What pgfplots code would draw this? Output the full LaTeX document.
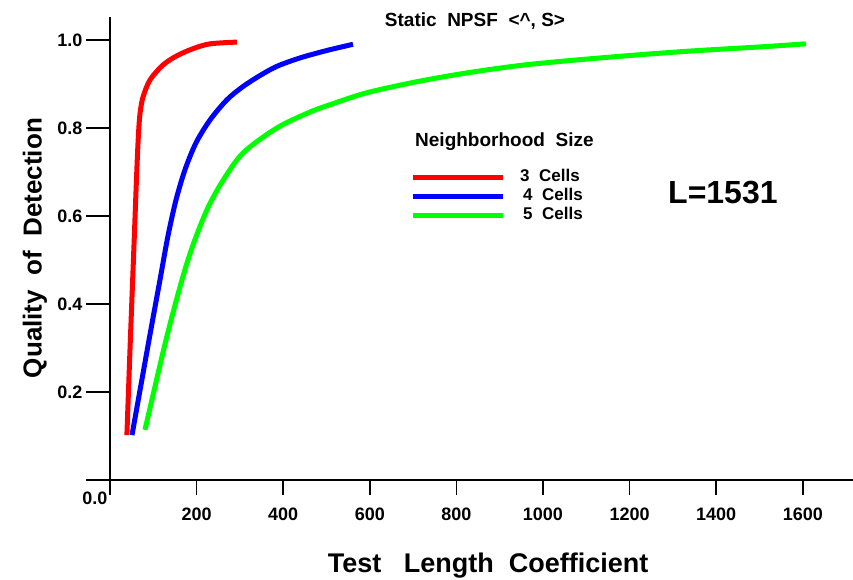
\documentclass[border=0pt]{standalone}
\usepackage{fontspec}
\setmainfont{Liberation Sans}
\usepackage{pgfplots}
\pgfplotsset{compat=1.18}
\newcommand\fs[1]{\fontsize{#1}{#1}\selectfont\bfseries}
\definecolor{cred}{RGB}{255,0,0}
\definecolor{cblue}{RGB}{0,0,255}
\definecolor{cgreen}{RGB}{0,255,0}
\begin{document}
\begin{tikzpicture}[x=1pt,y=1pt]
\useasboundingbox (-110,-100) rectangle (743,480);
\begin{axis}[
  at={(0,0)}, anchor=south west, scale only axis,
  width=743pt, height=463pt,
  xmin=0, xmax=1716, ymin=0, ymax=1.052,
  clip=false,
  axis x line=bottom, axis y line=left,
  axis line style={-, line width=1.8pt, black},
  tick align=outside, major tick length=24pt,
  tick style={line width=1.6pt, black},
  xtick={200,400,600,800,1000,1200,1400,1600},
  xticklabels={200,400,600,800,1000,1200,1400,1600},
  ytick={0.2,0.4,0.6,0.8,1.0},
  yticklabels={0.2,0.4,0.6,0.8,1.0},
  xtick style={/pgfplots/major tick length=15pt},
  extra x ticks={0}, extra x tick labels={},
  extra x tick style={/pgfplots/major tick length=15pt},
  extra y ticks={0}, extra y tick labels={0.0},
  extra y tick style={yticklabel style={xshift=25pt,yshift=-18pt}},
  tick label style={font=\fs{18}},
  xlabel={Test\ \ \ Length\ \ Coefficient},
  ylabel={Quality\ \ of\ \ Detection},
  xlabel style={font=\fs{27}, at={(axis description cs:0.509,-0.185)}, anchor=center},
  ylabel style={font=\fs{26}, at={(axis description cs:-0.101,0.501)}, anchor=center, rotate=0},
  legend style={at={(axis description cs:0.4038,0.672)}, anchor=north west,
    draw=none, fill=none, font=\fs{17}, row sep=5pt, column sep=15pt,
    inner sep=0pt, nodes={inner sep=0pt}},
  legend cell align=left,
  legend image code/.code={\draw[#1, line width=5pt] (0pt,-1.5pt) -- (90pt,-1.5pt);},
]
\addplot[cred, line width=5pt, smooth] coordinates {
(39,0.102)(47,0.318)(55,0.523)(62,0.705)(66,0.790)(69.5,0.834)(76.2,0.870)(92.4,0.909)(122.4,0.943)(154.7,0.964)(191.7,0.980)(231,0.991)(293,0.995)};
\addlegendentry{3\ \ Cells}
\addplot[cblue, line width=5pt, smooth] coordinates {
(50.8,0.102)(90.1,0.318)(115.5,0.455)(134,0.555)(152.4,0.636)(173.2,0.705)(198.6,0.766)(231,0.818)(270.2,0.864)(307.2,0.894)(346.4,0.919)(385.7,0.940)(438.8,0.959)(501.2,0.976)(561.2,0.990)};
\addlegendentry{\hspace{3pt}4\ \ Cells}
\addplot[cgreen, line width=5pt, smooth] coordinates {
(80.8,0.114)(129.3,0.318)(166.3,0.455)(191.7,0.534)(224,0.614)(258.7,0.677)(307.2,0.743)(385.7,0.800)(461.9,0.836)(515,0.855)(593.5,0.880)(709,0.905)(824.5,0.925)(940,0.941)(1039,0.951)(1194,0.964)(1346,0.975)(1501,0.984)(1607,0.991)};
\addlegendentry{\hspace{3pt}5\ \ Cells}
\end{axis}
\node[font=\fs{19}] at (365,459) {Static\ \ NPSF\ \ <\textasciicircum, S>};
\node[font=\fs{19}, anchor=west, inner sep=0pt] at (305,338) {Neighborhood\ \ Size};
\node[font=\fs{32}, anchor=west, inner sep=0pt] at (558,287) {L=1531};
\end{tikzpicture}
\end{document}
